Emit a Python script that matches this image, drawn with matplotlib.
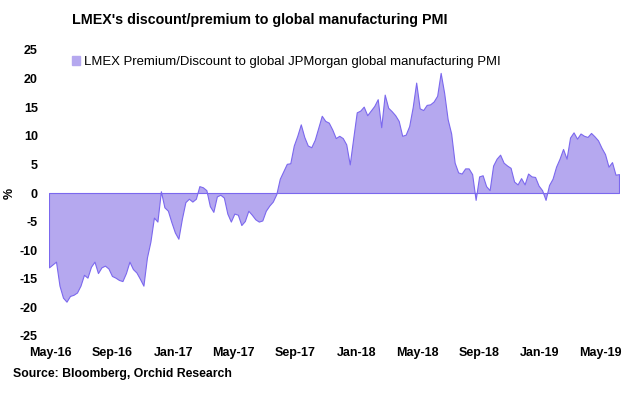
import matplotlib
matplotlib.use("Agg")
import matplotlib.pyplot as plt
import matplotlib.dates as mdates
from matplotlib.patches import Patch
import pandas as pd
import numpy as np

plt.rcParams['font.family'] = ['Liberation Sans', 'DejaVu Sans']
plt.rcParams['axes.unicode_minus'] = False

title = "LMEX's discount/premium to global manufacturing PMI"
series_name = "LMEX Premium/Discount to global JPMorgan global manufacturing PMI"
source = "Source: Bloomberg, Orchid Research"
start_date = "2016-04-29"
end_date = "2019-06-07"

values = [
    -13.0, -12.5, -12.0, -16.2, -18.3, -19.0, -18.0, -17.8, -17.4, -16.2,
    -14.3, -14.8, -12.9, -12.0, -14.0, -13.0, -12.7, -13.2, -14.5, -14.8,
    -15.2, -15.4, -14.0, -12.0, -13.3, -13.9, -15.0, -16.2, -11.3, -8.5,
    -4.3, -5.0, 0.3, -2.5, -3.1, -5.1, -6.9, -8.0, -4.5, -1.6,
    -1.0, -1.5, -1.0, 1.2, 1.0, 0.5, -2.3, -3.3, -0.6, -0.3,
    -0.8, -3.6, -5.0, -3.6, -3.8, -5.6, -4.9, -3.1, -3.8, -4.6,
    -5.0, -4.8, -3.1, -2.2, -1.5, -0.2, 2.5, 3.8, 5.1, 5.2,
    8.3, 10.0, 12.0, 9.8, 8.3, 8.0, 9.3, 11.4, 13.5, 12.6,
    12.3, 11.1, 9.6, 10.0, 9.6, 8.5, 5.0, 9.6, 14.1, 14.4,
    15.1, 13.6, 14.4, 15.2, 16.4, 11.5, 17.2, 14.9, 14.3, 13.6,
    12.6, 10.0, 10.2, 11.7, 15.0, 19.3, 14.8, 14.5, 15.4, 15.5,
    16.0, 17.0, 21.0, 17.5, 12.9, 10.4, 5.3, 3.6, 3.4, 4.3,
    4.3, 3.3, -1.2, 2.9, 3.1, 1.2, 0.5, 4.8, 6.0, 6.7,
    5.3, 4.8, 4.4, 2.0, 1.5, 2.6, 1.5, 3.4, 2.9, 2.8,
    1.3, 0.5, -1.2, 1.4, 2.5, 4.6, 6.0, 7.7, 6.0, 9.7,
    10.6, 9.5, 10.4, 10.0, 9.8, 10.5, 9.9, 9.2, 7.9, 6.8,
    4.6, 5.4, 3.2, 3.3,
]
tick_dates = ["2016-05-01", "2016-09-01", "2017-01-01", "2017-05-01", "2017-09-01",
              "2018-01-01", "2018-05-01", "2018-09-01", "2019-01-01", "2019-05-01"]
y_ticks = [25, 20, 15, 10, 5, 0, -5, -10, -15, -20, -25]

dates = pd.date_range(start_date, end_date, periods=len(values))

fill_c = "#b5a8ef"
line_c = "#7b68ee"

fig = plt.figure(figsize=(6.4, 3.95), dpi=100)
ax = fig.add_axes([49/640, 1 - 336/395, 570/640, 286/395])

ax.fill_between(dates, 0, values, facecolor=fill_c, edgecolor=line_c, linewidth=0.8)

ax.set_xlim(pd.Timestamp(start_date), pd.Timestamp(end_date))
ax.set_ylim(-25, 25)
ax.set_yticks(y_ticks)
ax.set_xticks(pd.to_datetime(tick_dates))
ax.xaxis.set_major_formatter(mdates.DateFormatter("%b-%y"))
for s in ax.spines.values():
    s.set_visible(False)
ax.tick_params(axis='both', length=0, labelsize=9)
ax.tick_params(axis='y', pad=8)
ax.tick_params(axis='x', pad=8)
for lab in ax.get_xticklabels() + ax.get_yticklabels():
    lab.set_fontweight('bold')

fig.text(10/640, 1 - 193/395, "%", rotation=90, fontsize=9, fontweight='bold',
         ha='center', va='center')

fig.text(260/640, 1 - 20/395, title, fontsize=10.3, fontweight='bold',
         ha='center', va='center')

leg = ax.legend([Patch(facecolor=fill_c, edgecolor=fill_c)], [series_name],
                loc='center left', bbox_to_anchor=(72/640, 1 - 62/395),
                bbox_transform=fig.transFigure, frameon=False, fontsize=9.45,
                handlelength=0.6, handleheight=0.7, handletextpad=0.3,
                borderpad=0, borderaxespad=0)

fig.text(13/640, 1 - 374/395, source, fontsize=8.8, fontweight='bold',
         ha='left', va='center')

fig.savefig("out.png", dpi=100)
